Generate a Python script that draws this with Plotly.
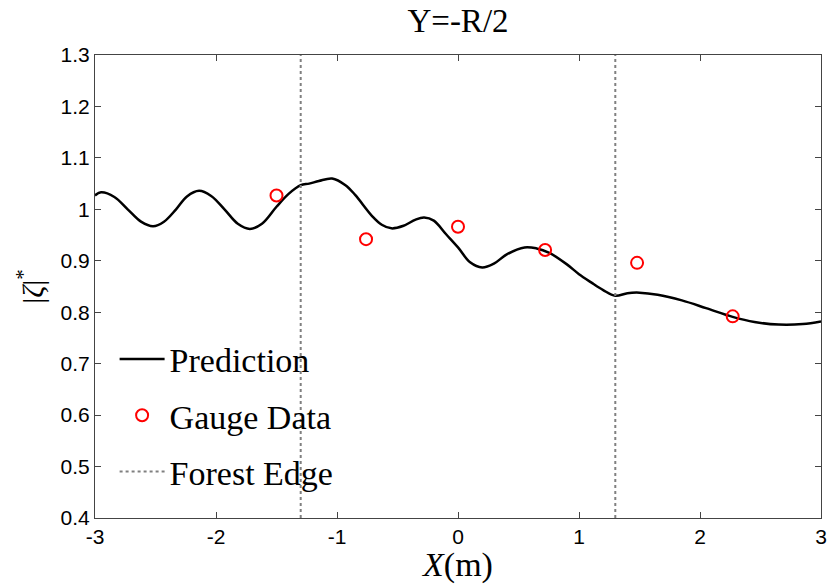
import plotly.graph_objects as go

# Prediction curve
pred_x = [-3.0, -2.95, -2.84, -2.73, -2.62, -2.52, -2.43, -2.33, -2.24, -2.14, -2.04, -1.93, -1.82, -1.72,
          -1.62, -1.5, -1.4, -1.3, -1.23, -1.15, -1.04, -0.93, -0.85, -0.71, -0.63, -0.55, -0.45, -0.35,
          -0.28, -0.2, -0.1, 0.0, 0.1, 0.2, 0.3, 0.4, 0.55, 0.65, 0.75, 0.9, 1.0, 1.1, 1.2, 1.3, 1.4,
          1.5, 1.65, 1.85, 2.05, 2.27, 2.45, 2.65, 2.85, 3.0]
pred_y = [1.027, 1.033, 1.024, 1.000, 0.976, 0.967, 0.976, 1.000, 1.025, 1.036, 1.026, 1.000, 0.972, 0.962,
          0.972, 1.005, 1.030, 1.047, 1.050, 1.055, 1.060, 1.047, 1.028, 0.987, 0.970, 0.963, 0.968, 0.980,
          0.984, 0.978, 0.952, 0.926, 0.897, 0.887, 0.895, 0.912, 0.926, 0.924, 0.916, 0.893, 0.874, 0.858,
          0.843, 0.832, 0.837, 0.838, 0.834, 0.823, 0.808, 0.791, 0.781, 0.776, 0.777, 0.782]

# Gauge data
gauge_x = [-1.5, -0.76, 0.0, 0.72, 1.48, 2.27]
gauge_y = [1.027, 0.942, 0.966, 0.921, 0.896, 0.792]

# Forest edges
edge_x = [-1.3, 1.3]
y_range = [0.4, 1.3]

x_ticks = [-3, -2, -1, 0, 1, 2, 3]
y_ticks = [0.4, 0.5, 0.6, 0.7, 0.8, 0.9, 1.0, 1.1, 1.2, 1.3]
y_tick_text = ["0.4", "0.5", "0.6", "0.7", "0.8", "0.9", "1", "1.1", "1.2", "1.3"]

serif = "Liberation Serif"
sans = "Liberation Sans"

fig = go.Figure()

fig.add_trace(go.Scatter(
    x=pred_x, y=pred_y, mode="lines", name="Prediction", legendgroup="a",
    line=dict(color="black", width=2.5, shape="spline", smoothing=1.0),
))

fig.add_trace(go.Scatter(
    x=gauge_x, y=gauge_y, mode="markers", name="Gauge Data", legendgroup="b",
    marker=dict(symbol="circle-open", color="red", size=12, line=dict(width=2, color="red")),
))

ex, ey = [], []
for e in edge_x:
    ex += [e, e, None]
    ey += [y_range[0], y_range[1], None]
fig.add_trace(go.Scatter(
    x=ex, y=ey, mode="lines", name="Forest Edge", legendgroup="c",
    line=dict(color="gray", width=2, dash="dot"),
))

axis_common = dict(
    showline=True, linecolor="#444", linewidth=1, mirror="ticks",
    ticks="inside", ticklen=6, tickcolor="#444",
    showgrid=False, zeroline=False,
    tickfont=dict(family=sans, size=21, color="black"),
)

fig.update_layout(
    width=839, height=584,
    margin=dict(l=95, r=15, t=55, b=60),
    paper_bgcolor="white", plot_bgcolor="white",
    title=dict(text="Y=-R/2", x=0.5, xanchor="center", y=0.965, yanchor="middle",
               xref="paper",
               font=dict(family=serif, size=33, color="black")),
    xaxis=dict(range=[-3, 3], tickvals=x_ticks, ticktext=[str(t) for t in x_ticks],
               title=dict(text="<i>X</i>(m)", font=dict(family=serif, size=34, color="black"), standoff=0),
               **axis_common),
    yaxis=dict(range=y_range, tickvals=y_ticks, ticktext=y_tick_text,
               title=dict(text="|<i>ζ</i>|<sup>*</sup>", font=dict(family=serif, size=30, color="black"), standoff=8),
               **axis_common),
    legend=dict(x=0.027, y=0.405, xanchor="left", yanchor="top",
                bgcolor="rgba(0,0,0,0)", borderwidth=0,
                font=dict(family=serif, size=34, color="black"),
                itemwidth=45, tracegroupgap=9),
    showlegend=True,
)

fig.write_html("out.html")
